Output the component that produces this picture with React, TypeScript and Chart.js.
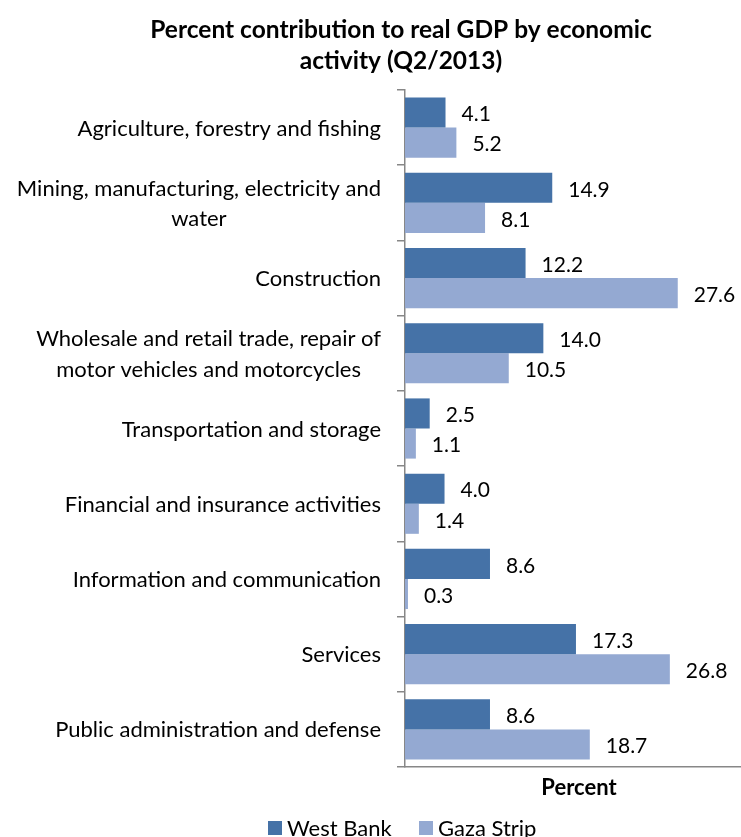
import React, { useEffect, useRef } from 'react';
import { Chart, registerables } from 'chart.js';

Chart.register(...registerables);

const titleLines = ['Percent contribution to real GDP by economic', 'activity (Q2/2013)'];
const xAxisTitle = 'Percent';
const categories: (string | string[])[] = [
  'Agriculture, forestry and fishing',
  ['Mining, manufacturing, electricity and', 'water'],
  'Construction',
  ['Wholesale and retail trade, repair of', 'motor vehicles and motorcycles'],
  'Transportation and storage',
  'Financial and insurance activities',
  'Information and communication',
  'Services',
  'Public administration and defense',
];
const seriesNames = ['West Bank', 'Gaza Strip'];
const westBank = [4.1, 14.9, 12.2, 14.0, 2.5, 4.0, 8.6, 17.3, 8.6];
const gazaStrip = [5.2, 8.1, 27.6, 10.5, 1.1, 1.4, 0.3, 26.8, 18.7];
const seriesColors = ['#4572A7', '#94A9D2'];
const xMin = 0;
const xMax = 34;

const FONT = 'Lato, Carlito, Calibri, "Open Sans", sans-serif';
const AXIS_GRAY = '#878787';

export default function App() {
  const ref = useRef<HTMLCanvasElement>(null);

  useEffect(() => {
    document.body.style.margin = '0';
    const canvas = ref.current;
    if (!canvas) return;

    const textPlugin = {
      id: 'customText',
      afterDraw(chart: any) {
        const ctx: CanvasRenderingContext2D = chart.ctx;
        const yScale = chart.scales.y;
        const area = chart.chartArea;
        ctx.save();
        ctx.fillStyle = '#000';
        ctx.textBaseline = 'middle';

        // Title
        ctx.font = `bold 24.5px ${FONT}`;
        ctx.textAlign = 'center';
        titleLines.forEach((t, i) => ctx.fillText(t, 401, 30 + i * 31));

        // Category labels
        ctx.font = `22px ${FONT}`;
        categories.forEach((lab, i) => {
          const lines = Array.isArray(lab) ? lab : [lab];
          const cy = yScale.getPixelForValue(i);
          const right = area.left - 24;
          const maxW = Math.max(...lines.map((l) => ctx.measureText(l).width));
          const cx = right - maxW / 2;
          ctx.textAlign = 'center';
          lines.forEach((l, j) => {
            ctx.fillText(l, cx, cy + 1 + (j - (lines.length - 1) / 2) * 30.5);
          });
        });

        // Value labels
        ctx.font = `21px ${FONT}`;
        ctx.textAlign = 'left';
        chart.data.datasets.forEach((ds: any, di: number) => {
          const meta = chart.getDatasetMeta(di);
          meta.data.forEach((bar: any, i: number) => {
            ctx.fillText(Number(ds.data[i]).toFixed(1), bar.x + 16, bar.y + 2);
          });
        });

        // X axis title
        ctx.font = `bold 22px ${FONT}`;
        ctx.textAlign = 'center';
        ctx.fillText(xAxisTitle, 579, area.bottom + 21);

        // Legend
        ctx.font = `22px ${FONT}`;
        const box = 14;
        const gap = 5;
        const itemX = [268, 419];
        const ly = 828;
        ctx.textAlign = 'left';
        seriesNames.forEach((n, i) => {
          const x = itemX[i];
          ctx.fillStyle = seriesColors[i];
          ctx.fillRect(x, ly - box / 2, box, box);
          ctx.fillStyle = '#000';
          ctx.fillText(n, x + box + gap, ly + 1);
        });
        ctx.restore();
      },
    };

    const chart = new Chart(canvas, {
      type: 'bar',
      data: {
        labels: categories.map((c) => (Array.isArray(c) ? c.join(' ') : c)),
        datasets: [
          {
            label: seriesNames[0],
            data: westBank,
            backgroundColor: seriesColors[0],
            categoryPercentage: 0.8,
            barPercentage: 1.0,
          },
          {
            label: seriesNames[1],
            data: gazaStrip,
            backgroundColor: seriesColors[1],
            categoryPercentage: 0.8,
            barPercentage: 1.0,
          },
        ],
      },
      options: {
        indexAxis: 'y',
        responsive: false,
        animation: false,
        layout: { padding: { left: 397, right: 0, top: 90, bottom: 70 } },
        plugins: {
          legend: { display: false },
          title: { display: false },
          tooltip: { enabled: false },
        },
        scales: {
          x: {
            min: xMin,
            max: xMax,
            ticks: { display: false },
            grid: { display: false, drawOnChartArea: false, drawTicks: false },
            border: { display: true, color: AXIS_GRAY, width: 1.5 },
          },
          y: {
            ticks: { display: false },
            grid: {
              display: true,
              offset: true,
              drawOnChartArea: false,
              drawTicks: true,
              tickLength: 8,
              color: AXIS_GRAY,
              lineWidth: 1.5,
            },
            border: { display: true, color: AXIS_GRAY, width: 1.5 },
          },
        },
      },
      plugins: [textPlugin],
    });

    return () => chart.destroy();
  }, []);

  return (
    <div style={{ width: 741, height: 837 }}>
      <canvas ref={ref} width={741} height={837} style={{ display: 'block' }} />
    </div>
  );
}
